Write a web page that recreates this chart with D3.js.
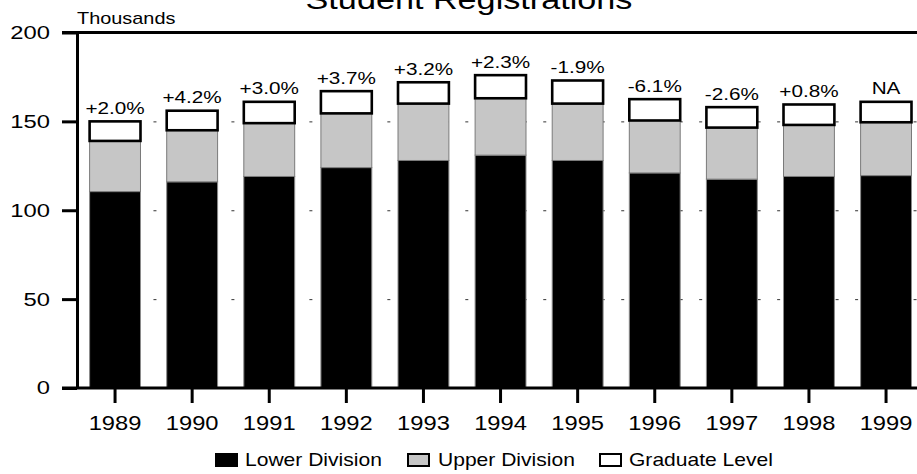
<!DOCTYPE html>
<html>
<head>
<meta charset="utf-8">
<script src="https://cdn.jsdelivr.net/npm/d3@7"></script>
<style>
  html, body { margin: 0; padding: 0; background: #fff; }
  svg { display: block; font-family: "Liberation Sans", Arial, Helvetica, sans-serif; }
</style>
</head>
<body>
<svg id="chart" width="917" height="474"></svg>
<script>
// ---- data ----
const years = ["1989","1990","1991","1992","1993","1994","1995","1996","1997","1998","1999"];
const lowerDivision = [110.5, 116, 119, 124, 128, 131, 128, 121, 117.5, 119, 119.5];
const upperDivision = [28.5, 29, 30, 30.5, 32, 32, 32, 29.5, 29, 29, 30];
const graduateLevel = [11, 11, 12, 12.5, 12, 13, 13, 12, 11.5, 11.5, 11.5];
const changeLabels = ["+2.0%","+4.2%","+3.0%","+3.7%","+3.2%","+2.3%","-1.9%","-6.1%","-2.6%","+0.8%","NA"];
const yTicks = [0, 50, 100, 150, 200];
const gridValues = [50, 100, 150];
const seriesNames = ["Lower Division", "Upper Division", "Graduate Level"];
const titleText = "Student Registrations";
const unitText = "Thousands";

// ---- build ----
const rows = years.map((yr, i) => ({
  year: yr,
  "Lower Division": lowerDivision[i],
  "Upper Division": upperDivision[i],
  "Graduate Level": graduateLevel[i],
  label: changeLabels[i]
}));

const svg = d3.select("#chart");
const W = 917;

const x = d3.scaleBand().domain(years).range([76.5, 924.6]).paddingInner(0.34).paddingOuter(0.17);
const y = d3.scaleLinear().domain([0, 200]).range([388, 32.5]);

const styles = {
  "Lower Division": { fill: "#000000", stroke: "#8a8a8a", sw: 1 },
  "Upper Division": { fill: "#c6c6c6", stroke: "#7a7a7a", sw: 1 },
  "Graduate Level": { fill: "#ffffff", stroke: "#000000", sw: 2.6 }
};

// helper: horizontally stretched text
function stretch(sel, sx) {
  sel.each(function() {
    const t = d3.select(this);
    const xx = +t.attr("x") || 0;
    const yy = +t.attr("y") || 0;
    t.attr("x", 0).attr("y", 0)
     .attr("transform", (t.attr("transform") || "") + ` translate(${xx},${yy}) scale(${sx},1)`);
  });
}

// gridlines (dashed, behind bars)
svg.append("g").selectAll("line").data(gridValues).join("line")
  .attr("x1", 75.5).attr("x2", W)
  .attr("y1", d => y(d) + 0.5).attr("y2", d => y(d) + 0.5)
  .attr("stroke", "#333").attr("stroke-width", 1)
  .attr("stroke-dasharray", "3,16.49");

// stacked bars
const stack = d3.stack().keys(seriesNames);
const stacked = stack(rows);
const barG = svg.append("g");
stacked.forEach(layer => {
  const st = styles[layer.key];
  barG.append("g").selectAll("rect").data(layer).join("rect")
    .attr("x", d => x(d.data.year))
    .attr("width", x.bandwidth())
    .attr("y", d => y(d[1]))
    .attr("height", d => y(d[0]) - y(d[1]))
    .attr("fill", st.fill)
    .attr("stroke", st.stroke)
    .attr("stroke-width", st.sw);
});

// change labels
const lab = svg.append("g").selectAll("text").data(stacked[2]).join("text")
  .attr("x", d => x(d.data.year) + x.bandwidth() / 2)
  .attr("y", d => y(d[1]) - 7.5)
  .attr("text-anchor", "middle")
  .attr("font-size", 16.3)
  .attr("fill", "#000")
  .text(d => d.data.label);
stretch(lab, 1.27);

// frame lines at 0 and 200
svg.append("g").selectAll("line").data([0, 200]).join("line")
  .attr("x1", 62).attr("x2", W)
  .attr("y1", d => y(d)).attr("y2", d => y(d))
  .attr("stroke", "#000").attr("stroke-width", 3);

// left axis
const yAxis = svg.append("g").attr("transform", "translate(77,0)")
  .call(d3.axisLeft(y).tickValues(yTicks).tickSize(15).tickPadding(12).tickSizeOuter(0));
yAxis.select(".domain").attr("stroke", "#000").attr("stroke-width", 3);
yAxis.selectAll(".tick line").attr("stroke", "#000").attr("stroke-width", 3);
yAxis.selectAll(".tick text").attr("font-size", 18.6).attr("font-family", null).attr("fill", "#000");
yAxis.selectAll(".tick text").each(function() {
  const t = d3.select(this);
  t.attr("transform", `translate(-27,0) scale(1.28,1)`).attr("x", 0);
});

// bottom axis
const xAxis = svg.append("g").attr("transform", `translate(0,${y(0)})`)
  .call(d3.axisBottom(x).tickSize(15).tickPadding(10).tickSizeOuter(0));
xAxis.select(".domain").remove();
xAxis.selectAll(".tick line").attr("stroke", "#000").attr("stroke-width", 3);
xAxis.selectAll(".tick text").attr("font-size", 21).attr("font-family", null).attr("fill", "#000")
  .attr("dy", null).attr("y", 42)
  .attr("transform", "scale(1.13,1)");

// title & unit
const title = svg.append("text")
  .attr("x", 469).attr("y", 9).attr("text-anchor", "middle")
  .attr("font-size", 28.5).text(titleText);
stretch(title, 1.2);
const unit = svg.append("text")
  .attr("x", 77).attr("y", 24).attr("text-anchor", "start")
  .attr("font-size", 17).text(unitText);
stretch(unit, 1.17);

// legend
const legendPos = [{ sx: 215, tx: 245 }, { sx: 407, tx: 438 }, { sx: 599, tx: 629 }];
const leg = svg.append("g").selectAll("g").data(seriesNames).join("g");
leg.append("rect")
  .attr("x", (d, i) => legendPos[i].sx + 1)
  .attr("y", 454)
  .attr("width", 21).attr("height", 12)
  .attr("fill", d => styles[d].fill)
  .attr("stroke", "#000").attr("stroke-width", 2);
const legText = leg.append("text")
  .attr("x", (d, i) => legendPos[i].tx)
  .attr("y", 466)
  .attr("font-size", 17.7)
  .text(d => d);
stretch(legText, 1.19);
</script>
</body>
</html>
